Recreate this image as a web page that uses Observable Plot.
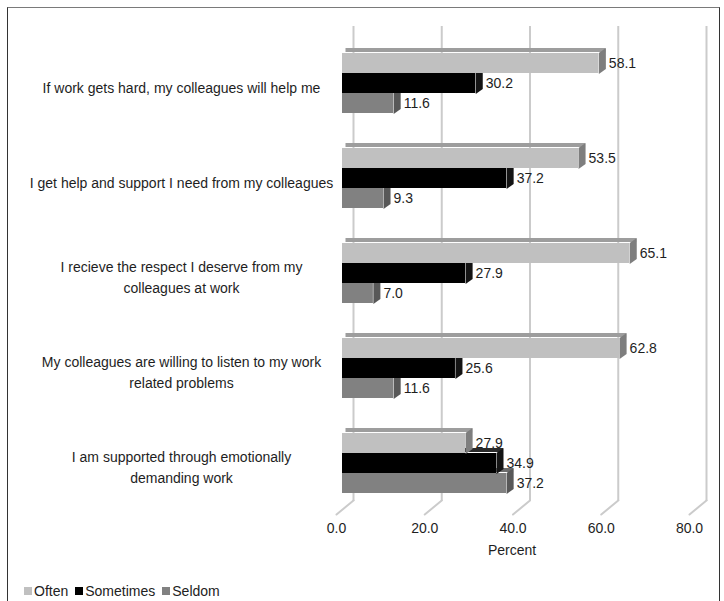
<!DOCTYPE html>
<html>
<head>
<meta charset="utf-8">
<script src="https://cdn.jsdelivr.net/npm/d3@7"></script>
<script src="https://cdn.jsdelivr.net/npm/@observablehq/plot@0.6"></script>
<style>
  body { margin: 0; background: #fff; font-family: "Liberation Sans", Arial, Helvetica, sans-serif; }
  #frame { position: absolute; left: 7px; top: 7px; width: 711px; height: 640px;
           border-top: 1px solid #7a7a7a; border-left: 1px solid #333; border-right: 1px solid #333; }
  #chart { position: absolute; left: 0; top: 0; }
  #legend { position: absolute; left: 16px; top: 575px; font-size: 14px; color: #222;
            display: flex; align-items: center; line-height: 16px; white-space: nowrap; }
  #legend .sw { display: inline-block; width: 8px; height: 8px; margin-right: 2px; }
  #legend .item { display: inline-flex; align-items: center; margin-right: 7px; }
</style>
</head>
<body>
<div id="frame">
  <div id="chart"></div>
  <div id="legend"></div>
</div>
<script>
// ---- data ----
const questions = [
  "If work gets hard, my colleagues will help me",
  "I get help and support I need from my colleagues",
  "I recieve the respect I deserve from my\ncolleagues at work",
  "My colleagues are willing to listen to my work\nrelated problems",
  "I am supported through emotionally\ndemanding work"
];
const series = ["Often", "Sometimes", "Seldom"];
const often     = [58.1, 53.5, 65.1, 62.8, 27.9];
const sometimes = [30.2, 37.2, 27.9, 25.6, 34.9];
const seldom    = [11.6, 9.3, 7.0, 11.6, 37.2];
const xTicks = [0, 20, 40, 60, 80];
const xLabel = "Percent";

// ---- styles ----
const frontColor = {Often: "#c0c0c0", Sometimes: "#000000", Seldom: "#818181"};
const topColor   = {Often: "#9d9d9d", Sometimes: "#2a2a2a", Seldom: "#6c6c6c"};
const sideColor  = {Often: "#7e7e7e", Sometimes: "#141414", Seldom: "#585858"};
const gridColor = "#cbcbcb";
const textColor = "#1e1e1e";
const DX = 7, DY = 5, BW = 21; // 3D depth (px) and band width (px)

const valuesBySeries = {Often: often, Sometimes: sometimes, Seldom: seldom};
const rows = [];
questions.forEach((q, i) => series.forEach(s => rows.push({question: q, series: s, value: valuesBySeries[s][i]})));
const lastQ = questions[questions.length - 1];

// side face of a bar: a parallelogram drawn at the bar's end
const sideShape = {
  draw(ctx) {
    ctx.moveTo(0, -BW / 2);
    ctx.lineTo(DX, -BW / 2 - DY);
    ctx.lineTo(DX, BW / 2 - DY);
    ctx.lineTo(0, BW / 2);
    ctx.closePath();
  }
};

const barMarks = [];
for (const s of ["Seldom", "Sometimes", "Often"]) {
  const d = rows.filter(r => r.series === s);
  barMarks.push(
    // top face
    Plot.barX(d, {x1: 0, x2: "value", y: "series", fy: "question", dx: DX / 2, dy: -DY,
                  insetBottom: BW - DY, insetRight: -DX / 2, fill: topColor[s]}),
    // front face
    Plot.barX(d, {x1: 0, x2: "value", y: "series", fy: "question", fill: frontColor[s]}),
    // side face
    Plot.vector(d, {x: "value", y: "series", fy: "question", length: 1, rotate: 0, anchor: "start",
                    shape: sideShape, fill: sideColor[s], stroke: "none"})
  );
}

const chart = Plot.plot({
  width: 711,
  height: 558,
  marginLeft: 334,
  marginRight: 24,
  marginTop: 26,
  marginBottom: 55,
  style: {fontFamily: '"Liberation Sans", Arial, Helvetica, sans-serif', fontSize: "14px", background: "transparent", color: textColor},
  x: {domain: [0, 80], axis: null},
  y: {domain: series, axis: null, paddingInner: 0, paddingOuter: 0.77},
  fy: {domain: questions, axis: null, padding: 0},
  marks: [
    // back-wall gridlines
    Plot.ruleX(xTicks, {x: d => d, dx: 11, dy: -9, stroke: gridColor, strokeWidth: 2}),
    // floor diagonals
    Plot.vector(xTicks, {
      x: d => d, fy: () => lastQ, frameAnchor: "bottom", dx: -6, dy: 4,
      length: 22, rotate: 50.5, anchor: "start", stroke: gridColor, strokeWidth: 2,
      shape: {draw(ctx, l) { ctx.moveTo(0, 0); ctx.lineTo(0, -l); }}
    }),
    ...barMarks,
    // value labels
    Plot.text(rows, {x: "value", y: "series", fy: "question", text: d => d3.format(".1f")(d.value),
                     textAnchor: "start", dx: 10, fill: textColor}),
    // category labels
    Plot.text(questions, {fy: d => d, text: d => d, frameAnchor: "left", dx: -161, dy: 3,
                          textAnchor: "middle", lineHeight: 1.5, fill: textColor}),
    // x tick labels
    Plot.text(xTicks, {x: d => d, fy: () => lastQ, frameAnchor: "bottom", dx: -6, dy: 22,
                       text: d => d3.format(".1f")(d), fill: textColor}),
    // x axis title
    Plot.text([xLabel], {fy: () => lastQ, frameAnchor: "bottom", dx: -7, dy: 44, text: d => d, fill: textColor})
  ]
});
document.getElementById("chart").appendChild(chart);

// legend
const legend = document.getElementById("legend");
series.forEach(s => {
  const item = document.createElement("span");
  item.className = "item";
  const sw = document.createElement("span");
  sw.className = "sw";
  sw.style.background = frontColor[s];
  item.appendChild(sw);
  item.appendChild(document.createTextNode(s));
  legend.appendChild(item);
});
</script>
</body>
</html>
